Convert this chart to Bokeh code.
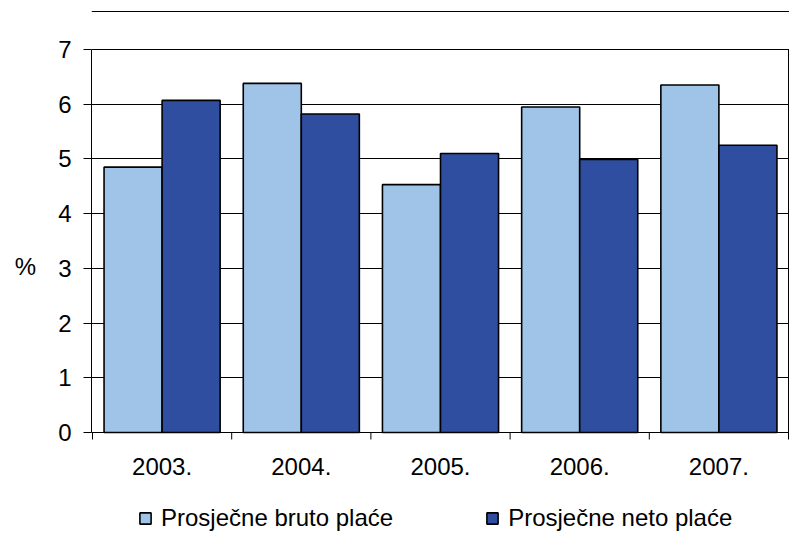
from bokeh.plotting import figure
from bokeh.models import (ColumnDataSource, FixedTicker, Legend, LegendItem,
                          Range1d)
from bokeh.core.properties import value
from bokeh.transform import dodge
from bokeh.embed import file_html
from bokeh.resources import INLINE

years = ["2003.", "2004.", "2005.", "2006.", "2007."]
bruto = [4.85, 6.38, 4.53, 5.95, 6.35]
neto = [6.07, 5.82, 5.10, 4.99, 5.25]
series_names = ["Prosječne bruto plaće", "Prosječne neto plaće"]
y_ticks = [0, 1, 2, 3, 4, 5, 6, 7]

FONT = "Liberation Sans"
FS = "24px"
LIGHT = "#9FC4E8"
DARK = "#2F4EA0"

# layout geometry (pixels)
W, H = 789, 532
LEFT, TOP = 91, 0
AX_Y0, AX_Y7 = 432, 49        # pixel rows of value 0 and of the top tick
X0_PX, X5_PX = 92, 788        # pixel columns of the first / last category boundary
BORDER_Y = 11                 # pixel row of the outer chart border
TICK_PX = 7

n = len(years)
ymax = y_ticks[-1]
sy = (AX_Y0 - AX_Y7) / ymax
sx = (X5_PX - X0_PX) / n
y_start = -(H - AX_Y0) / sy
y_end = ymax + (AX_Y7 - TOP) / sy
x_start = -(X0_PX - LEFT) / sx
x_end = n + (W - X5_PX) / sx
tick_len = TICK_PX / sy
border_y = ymax + (AX_Y7 - BORDER_Y) / sy

pos = [i + 0.5 for i in range(n)]
bounds = list(range(n + 1))
src = ColumnDataSource(dict(x=pos, bruto=bruto, neto=neto))
lab = ColumnDataSource(dict(x=pos, y=[0] * n, t=years))
tk = ColumnDataSource(dict(x=bounds, y0=[0] * (n + 1), y1=[-tick_len] * (n + 1)))

p = figure(width=W, height=H, output_backend="svg", toolbar_location=None,
           title_location=None,
           x_range=Range1d(x_start, x_end), y_range=Range1d(y_start, y_end),
           x_axis_location=None,
           min_border_left=LEFT, min_border_right=0, min_border_top=TOP,
           min_border_bottom=0)

bw = 0.417
r1 = p.vbar(x=dodge("x", -bw / 2, range=p.x_range), top="bruto", width=bw,
            source=src, fill_color=LIGHT, line_color="black", line_width=1.6)
r2 = p.vbar(x=dodge("x", bw / 2, range=p.x_range), top="neto", width=bw,
            source=src, fill_color=DARK, line_color="black", line_width=1.6)

# category axis: boundary ticks, right frame edge and labels
p.segment(x0="x", y0="y0", x1="x", y1="y1", source=tk,
          line_color="black", line_width=1)
p.segment(x0=[n], y0=[0], x1=[n], y1=[ymax], line_color="black", line_width=1)
p.text(x="x", y="y", text="t", source=lab, text_align="center",
       text_baseline="alphabetic", y_offset=34, text_font=value(FONT),
       text_font_size=value(FS), text_color="black")

# outer chart border (top edge)
p.segment(x0=[x_start], y0=[border_y], x1=[x_end], y1=[border_y],
          line_color="black", line_width=1)

# value axis
ya = p.yaxis[0]
ya.ticker = FixedTicker(ticks=y_ticks)
ya.bounds = (0, ymax)
ya.major_tick_out = 8
ya.major_tick_in = 0
ya.minor_tick_line_color = None
ya.axis_line_color = "black"
ya.major_tick_line_color = "black"
ya.major_label_standoff = 12
ya.major_label_text_font = FONT
ya.major_label_text_font_size = FS
ya.major_label_text_color = "black"
ya.axis_label = "%"
ya.axis_label_orientation = "horizontal"
ya.axis_label_text_font = FONT
ya.axis_label_text_font_size = FS
ya.axis_label_text_font_style = "normal"
ya.axis_label_text_color = "black"
ya.axis_label_standoff = 19

p.xgrid.grid_line_color = None
p.ygrid.grid_line_color = "black"
p.ygrid.grid_line_width = 1
p.outline_line_color = None
p.background_fill_color = "white"
p.border_fill_color = "white"

legend = Legend(items=[LegendItem(label=series_names[0], renderers=[r1]),
                       LegendItem(label=series_names[1], renderers=[r2])],
                orientation="horizontal", location=(47, 0),
                glyph_width=14, glyph_height=14, label_standoff=9,
                spacing=92, padding=0, margin=0,
                label_text_font=FONT, label_text_font_size=FS,
                label_text_color="black",
                border_line_color=None, background_fill_alpha=0)
p.add_layout(legend, "center")

open("out.html", "w").write(file_html(p, INLINE))
